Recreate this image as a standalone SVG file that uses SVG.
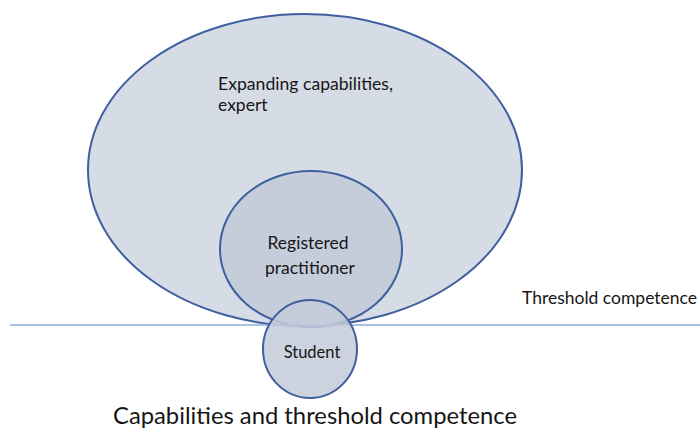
<svg xmlns="http://www.w3.org/2000/svg" width="700" height="436" viewBox="0 0 700 436">
<style>
.shape{stroke:#3f5f9f;stroke-width:2}
.t{font-family:Lato,"Open Sans","Liberation Sans",sans-serif;fill:#161616}
</style>
<rect width="700" height="436" fill="#ffffff"/>
<g id="expert">
<ellipse class="shape" cx="305" cy="170" rx="217" ry="156" fill="#d6dce5"/>
<text class="t" x="218" y="90" font-size="17.5" textLength="175" lengthAdjust="spacingAndGlyphs">Expanding capabilities,</text>
<text class="t" x="218" y="111" font-size="17.5">expert</text>
</g>
<g id="registered">
<ellipse class="shape" cx="311" cy="249" rx="91" ry="78" fill="#c3cbd9" fill-opacity="0.9"/>
<text class="t" x="308" y="249" font-size="17.5" text-anchor="middle">Registered</text>
<text class="t" x="310" y="274" font-size="17.5" text-anchor="middle">practitioner</text>
</g>
<g id="connectors">
<line x1="10" y1="325" x2="700" y2="325" stroke="#8eaadb" stroke-width="1.5"/>
</g>
<g id="student">
<ellipse class="shape" cx="310" cy="349" rx="47" ry="49" fill="#c3cbd9" fill-opacity="0.85"/>
<text class="t" x="312" y="358" font-size="16.5" text-anchor="middle">Student</text>
</g>
<g id="threshold">
<text class="t" x="522" y="304" font-size="17" textLength="175" lengthAdjust="spacingAndGlyphs">Threshold competence</text>
</g>
<g id="caption">
<text class="t" x="113" y="424" font-size="23.5" textLength="404" lengthAdjust="spacingAndGlyphs">Capabilities and threshold competence</text>
</g>
</svg>
